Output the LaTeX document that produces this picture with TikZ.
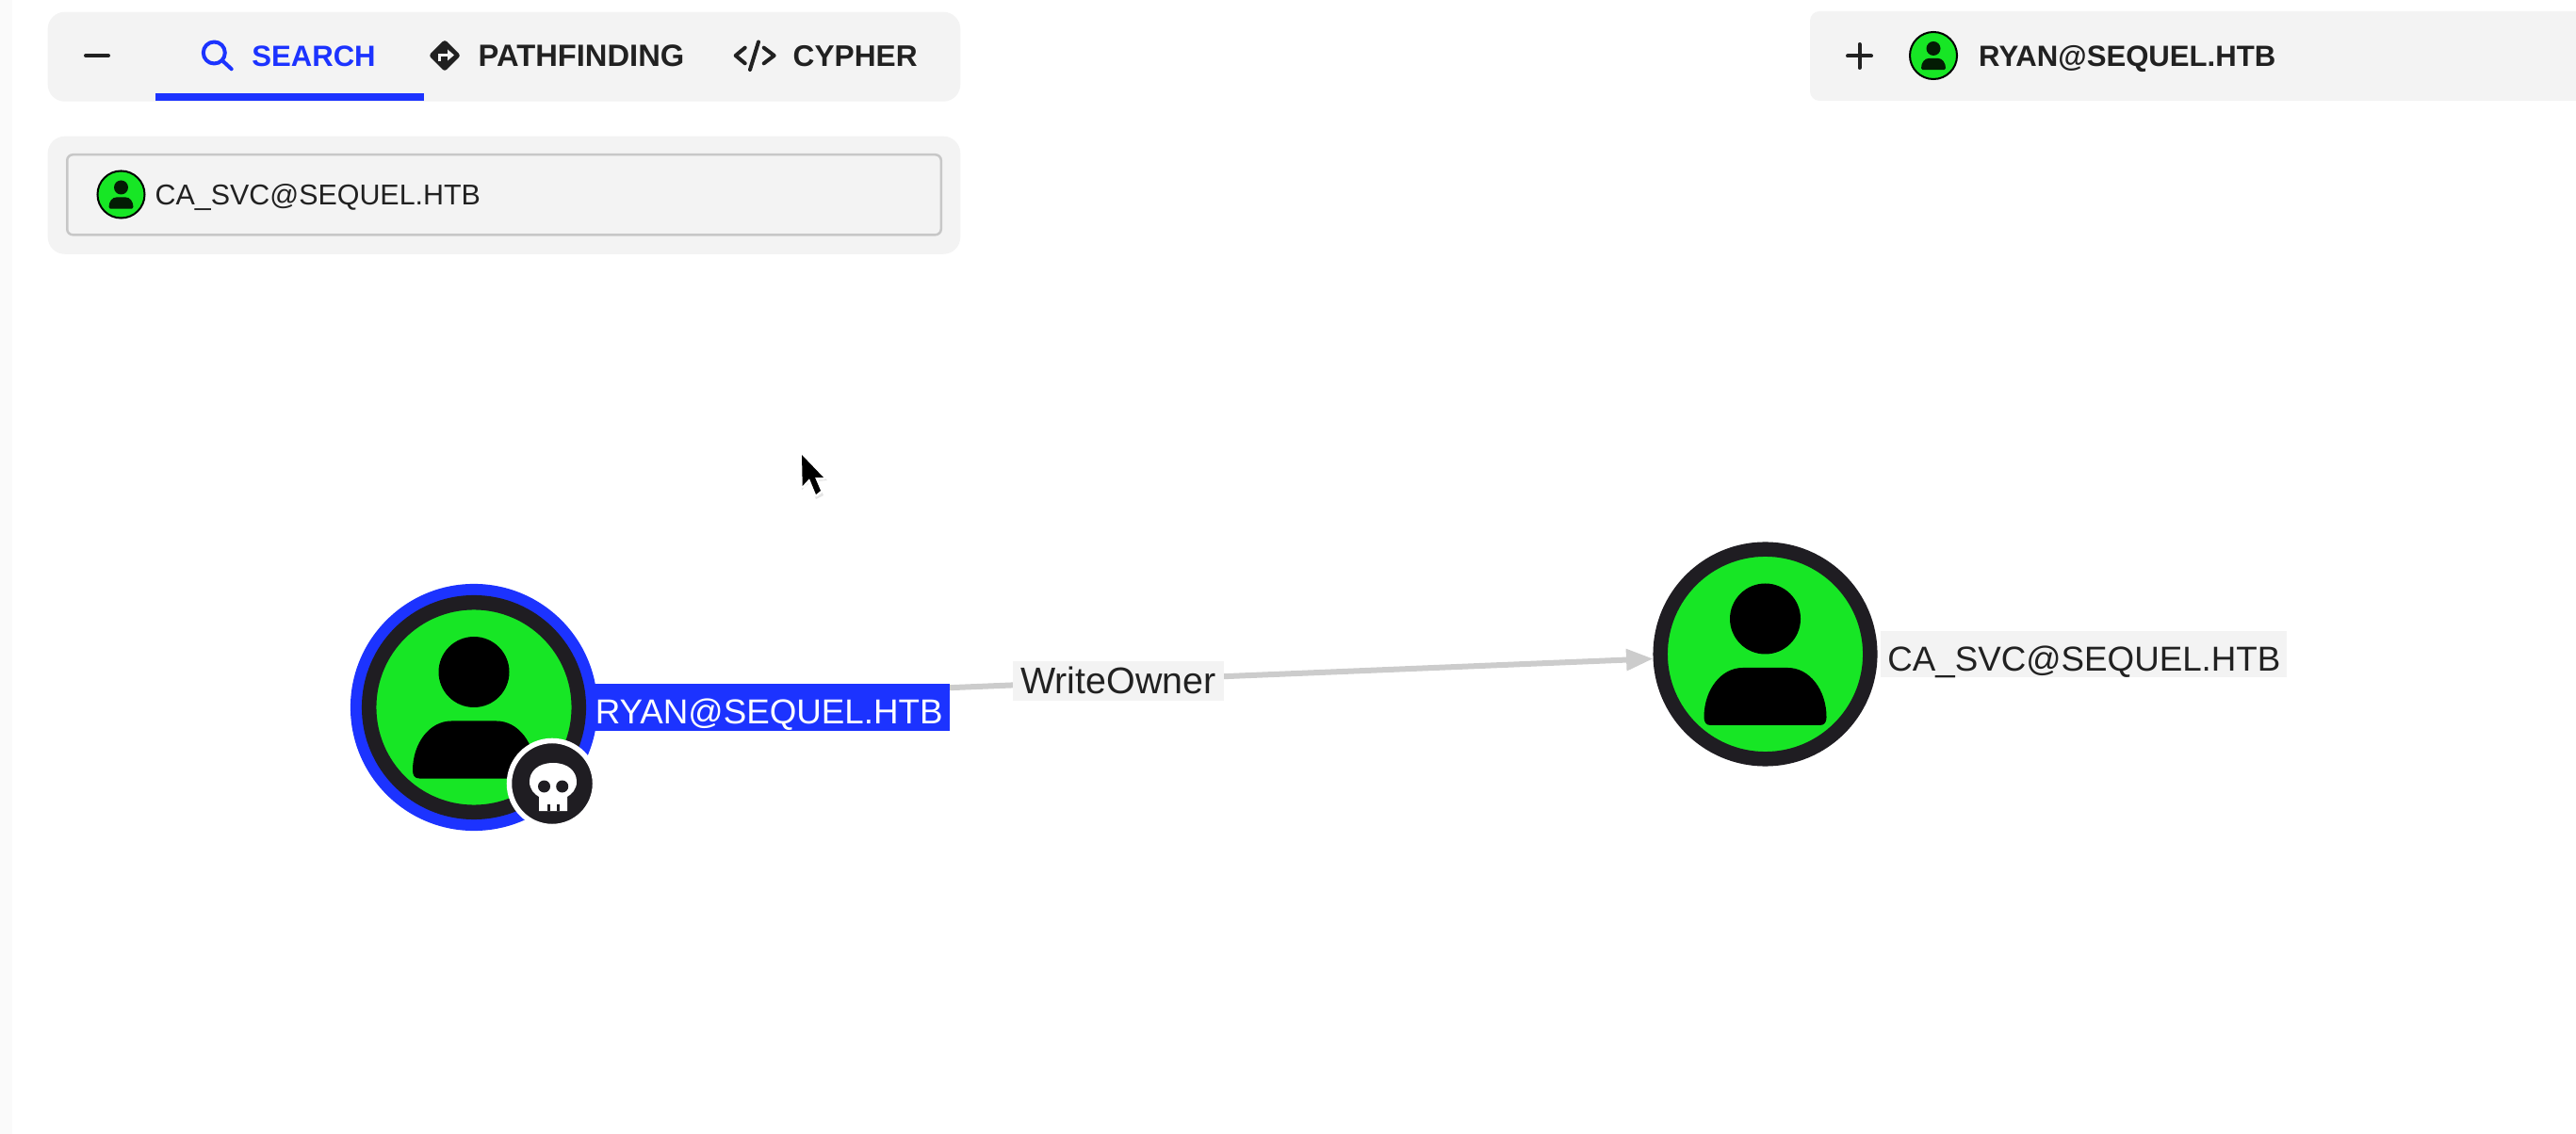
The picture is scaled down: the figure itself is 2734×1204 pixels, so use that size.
\documentclass[tikz,border=0pt]{standalone}
\usepackage{fontspec}
\setmainfont{Liberation Sans}
\usepackage{xcolor}
\definecolor{usergreen}{HTML}{17E625}
\definecolor{ringdark}{HTML}{1F1D22}
\definecolor{htbblue}{HTML}{1C33FF}
\definecolor{panelgray}{HTML}{F3F3F3}
\definecolor{edgegray}{HTML}{CCCCCC}
\definecolor{inktext}{HTML}{212121}
\definecolor{stripgray}{HTML}{FAFAFA}
\usepackage{tikz}
\usetikzlibrary{arrows.meta,positioning}

\newcommand{\personicon}[3]{%
  \begin{scope}[shift={(#1.center)},scale=#2]
    \fill[#3] (0,-37.5) circle (37.5);
    \fill[#3] (-58,75.5) .. controls (-63,75.5) and (-65,72) .. (-65,67)
      .. controls (-65,38) and (-47,14.5) .. (-24,14.5) -- (24,14.5)
      .. controls (47,14.5) and (65,38) .. (65,67)
      .. controls (65,72) and (63,75.5) .. (58,75.5) -- cycle;
  \end{scope}}

\begin{document}
\begin{tikzpicture}[
      x=0.01cm, y=-0.01cm,
      every node/.style={inner sep=0pt, text=inktext},
      panelbox/.style={fill=panelgray, rounded corners=.18cm, anchor=north west},
      usernode/.style={circle, draw=ringdark, fill=usergreen, line width=.155cm, minimum size=2.225cm},
      usermini/.style={circle, draw=black, fill=usergreen, line width=.02cm, minimum size=.5cm},
      namelabel/.style={fill=panelgray, font=\fontsize{10.45pt}{12pt}\selectfont, inner xsep=.07cm,
        text height=.42cm, text depth=.07cm},
      tabtext/.style={font=\fontsize{9.3pt}{11pt}\selectfont\bfseries, anchor=base west},
      iconline/.style={line width=.04cm, line cap=round, line join=round},
      edgearr/.style={-{Triangle[length=.285cm,width=.22cm]}, line width=.06cm, color=edgegray},
    ]
      \useasboundingbox (0,0) rectangle (2734,1204);
      \fill[stripgray] (0,0) rectangle (13,1204);

      \node[panelbox, minimum width=9.68cm, minimum height=.95cm] (tabbar) at (50,12) {};
      \fill[htbblue] (164.5,99) rectangle (450,107);
      \draw[iconline, inktext] (91,59) -- (115,59);
      \draw[iconline, htbblue] (227.3,56) circle (11.5);
      \draw[iconline, htbblue] (236.7,65) -- (245.7,73.3);
      \node[tabtext, text=htbblue, font=\fontsize{8.85pt}{11pt}\selectfont\bfseries] (searchtab) at (266.6,71) {SEARCH};
      \fill[inktext, rounded corners=.03cm] (472,42) -- (489,59) -- (472,76) -- (455,59) -- cycle;
      \draw[line width=.03cm, panelgray] (466.5,65) -- (466.5,58.5) -- (476,58.5);
      \fill[panelgray] (475,52.5) -- (482,58.5) -- (475,64.5) -- cycle;
      \node[tabtext] (pathtab) at (507,71) {PATHFINDING};
      \draw[iconline, inktext] (790.7,50.7) -- (780.7,59) -- (790.7,67.3);
      \draw[iconline, inktext] (810.7,50.7) -- (821.7,59) -- (810.7,67.3);
      \draw[iconline, inktext] (805,44.5) -- (796,74);
      \node[tabtext, font=\fontsize{9pt}{11pt}\selectfont\bfseries] (cyphertab) at (841,71) {CYPHER};

      \node[panelbox, minimum width=9.68cm, minimum height=1.25cm] (searchbar) at (50,144) {};
      \node[draw=black!22, fill=panelgray, line width=.025cm, rounded corners=.06cm, anchor=north west,
        minimum width=9.27cm, minimum height=.85cm] (searchfield) at (70,163) {};
      \node[usermini] (fieldicon) at (128.5,206.5) {};
      \personicon{fieldicon}{0.2}{usergreen!12!black}
      \node[font=\fontsize{8.65pt}{10pt}\selectfont, anchor=base west] (fieldtext) at (164,218) {CA\_SVC@SEQUEL.HTB};

      \fill[panelgray] (2734,12) [rounded corners=.1cm] -- (1921,12) -- (1921,107) [sharp corners] -- (2734,107) -- cycle;
      \draw[iconline, inktext] (1961,59.5) -- (1986,59.5);
      \draw[iconline, inktext] (1973.5,47) -- (1973.5,72);
      \node[usermini] (starticon) at (2052,59) {};
      \personicon{starticon}{0.2}{usergreen!12!black}
      \node[tabtext, font=\fontsize{8.85pt}{11pt}\selectfont\bfseries] (starttext) at (2099.5,71) {RYAN@SEQUEL.HTB};

      \fill[black!30, opacity=.35]
        (850,484) -- (851,520) -- (859,513) -- (866,530) -- (874,526) -- (868,511) -- (878,510) -- cycle;
      \draw[draw=white, line width=.05cm, line join=round]
        (851,483) -- (851.7,516) -- (859,508) -- (866,525) -- (871,521) -- (865,507) -- (874,507) -- cycle;
      \fill[black]
        (851,483) -- (851.7,516) -- (859,508) -- (866,525) -- (871,521) -- (865,507) -- (874,507) -- cycle;

      \node[circle, fill=htbblue, minimum size=2.62cm] (ryanring) at (503,751) {};
      \node[usernode] (ryan) at (503,751) {};
      \personicon{ryan}{1}{black}
      \node[usernode] (casvc) at (1873.5,694.5) {};
      \personicon{casvc}{1}{black}

      \draw[edgearr] (ryanring) -- (casvc)
        node[pos=0.493, fill=panelgray, font=\fontsize{11.2pt}{13pt}\selectfont, inner xsep=.085cm,
          text height=.35cm, text depth=.07cm] (edgetext) {WriteOwner};

      \node[namelabel, fill=htbblue, text=white, right=.02cm of ryan] (ryantext) {RYAN@SEQUEL.HTB};
      \node[namelabel, right=.03cm of casvc] (casvctext) {CA\_SVC@SEQUEL.HTB};

      \node[circle, draw=white, fill=ringdark, line width=.055cm, minimum size=.91cm] (badge) at (586,832) {};
      \fill[white] (587,810) .. controls (603,810) and (612,819) .. (612,830)
        .. controls (612,838) and (607,843) .. (602,846) -- (602,861) -- (572,861) -- (572,846)
        .. controls (567,843) and (562,838) .. (562,830) .. controls (562,819) and (571,810) .. (587,810) -- cycle;
      \fill[ringdark] (577.5,835) circle (6.5);
      \fill[ringdark] (596.7,835) circle (6.5);
      \fill[ringdark] (580.5,854) rectangle (583.5,861);
      \fill[ringdark] (590.5,854) rectangle (593.5,861);
\end{tikzpicture}
\end{document}
